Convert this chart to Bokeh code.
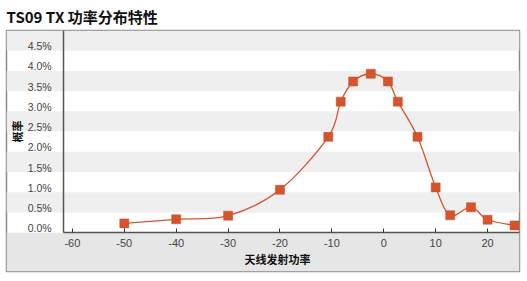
from bokeh.plotting import figure
from bokeh.models import Range1d, FixedTicker, BoxAnnotation, Label, ColumnDataSource
from bokeh.embed import file_html
from bokeh.resources import INLINE
import numpy as np

# ---- data ----
power_dbm = [-50, -40, -30, -20, -10.7, -8.3, -5.9, -2.5, 0.8, 2.7, 6.5, 10, 12.8, 16.8, 20, 25.2]
prob_pct = [0.23, 0.33, 0.42, 1.06, 2.37, 3.24, 3.74, 3.93, 3.74, 3.24, 2.37, 1.12, 0.43, 0.63, 0.32, 0.18]
x_ticks = [-60, -50, -40, -30, -20, -10, 0, 10, 20]
x_tick_labels = ["-60", "-50", "-40", "-30", "-20", "-10", "0", "10", "20"]
y_ticks = [0.0, 0.5, 1.0, 1.5, 2.0, 2.5, 3.0, 3.5, 4.0, 4.5]
y_tick_labels = ["0.0%", "0.5%", "1.0%", "1.5%", "2.0%", "2.5%", "3.0%", "3.5%", "4.0%", "4.5%"]
band_bottoms = [0.5, 1.5, 2.5, 3.5, 4.5]
band_height = 0.5

title_text = "TS09 TX 功率分布特性"
x_label = "天线发射功率"
y_label = "概率"

# axis extents (data units)
x_min, x_max = -61.7, 26.15      # plot area
y_min, y_max = 0.0, 5.0
x_pad_left = -72.7               # label column left of the plot area
y_pad_bottom = -0.96             # gray strip under the plot area

CJK = "Noto Sans CJK SC"
LAT = "Liberation Sans"
RED = "#d6542c"

p = figure(width=527, height=281, output_backend="svg", toolbar_location=None,
           x_range=Range1d(x_pad_left, x_max), y_range=Range1d(y_pad_bottom, y_max),
           min_border_left=6, min_border_right=8, min_border_top=29, min_border_bottom=10)
p.background_fill_color = "white"
p.border_fill_color = "white"
p.outline_line_color = "#8a8a8a"
p.outline_line_width = 1.5
p.grid.visible = False

# title
p.title.text = title_text
p.title.text_font = CJK
p.title.text_font_size = "15px"
p.title.text_font_style = "bold"
p.title.text_color = "#111111"
p.title.align = "left"
p.title.offset = 0
p.title.standoff = 7

# alternating bands across the whole width
for b in band_bottoms:
    p.add_layout(BoxAnnotation(bottom=b, top=b + band_height,
                               fill_color="#efefef", fill_alpha=1.0, line_color=None, level="underlay"))

# gray strip beneath the plot area
p.add_layout(BoxAnnotation(top=y_min, fill_color="#e6e6e6", fill_alpha=1.0,
                           line_color=None, level="underlay"))

# smooth curve via bezier segments (Catmull-Rom control points from the data)
xs = np.array(power_dbm, dtype=float)
ys = np.array(prob_pct, dtype=float)
xp = np.concatenate([[xs[0]], xs, [xs[-1]]])
yp = np.concatenate([[ys[0]], ys, [ys[-1]]])
n = len(xs)
x0 = xs[:-1]; y0 = ys[:-1]; x1 = xs[1:]; y1 = ys[1:]
cx0 = x0 + (xp[2:n + 1] - xp[0:n - 1]) / 6.0
cy0 = y0 + (yp[2:n + 1] - yp[0:n - 1]) / 6.0
cx1 = x1 - (xp[3:n + 2] - xp[1:n]) / 6.0
cy1 = y1 - (yp[3:n + 2] - yp[1:n]) / 6.0
p.bezier(x0=x0, y0=y0, x1=x1, y1=y1, cx0=cx0, cy0=cy0, cx1=cx1, cy1=cy1,
         line_color=RED, line_width=1.3)

src = ColumnDataSource(dict(x=power_dbm, y=prob_pct))
p.scatter("x", "y", source=src, marker="square", size=9, fill_color=RED,
          line_color="#c84a25", line_width=0.5)

# x axis, fixed at y = 0
xa = p.xaxis[0]
xa.fixed_location = y_min
xa.bounds = (x_min, x_max)
xa.ticker = FixedTicker(ticks=x_ticks)
xa.major_label_overrides = {t: lab for t, lab in zip(x_ticks, x_tick_labels)}
xa.minor_tick_line_color = None
xa.major_tick_in = 4
xa.major_tick_out = 0
xa.major_tick_line_color = "#333333"
xa.axis_line_color = "#555555"
xa.axis_line_width = 1.5
xa.major_label_text_font = LAT
xa.major_label_text_font_size = "11px"
xa.major_label_text_color = "#444444"
xa.major_label_standoff = 6

p.add_layout(Label(x=271, y=13, x_units="screen", y_units="screen", text=x_label,
                   text_font=CJK, text_font_size="11px", text_font_style="bold",
                   text_color="#111111", text_align="center", text_baseline="middle"))

# y axis, fixed at the left edge of the plot area (labels sit just above band edges)
ya = p.yaxis[0]
ya.fixed_location = x_min
ya.bounds = (y_min, y_max)
off = 0.11
shifted = [round(v + off, 4) for v in y_ticks]
ya.ticker = FixedTicker(ticks=shifted)
ya.major_label_overrides = {s: lab for s, lab in zip(shifted, y_tick_labels)}
ya.minor_tick_line_color = None
ya.major_tick_line_color = None
ya.axis_line_color = "#555555"
ya.axis_line_width = 1.5
ya.major_label_text_font = LAT
ya.major_label_text_font_size = "10.5px"
ya.major_label_text_color = "#444444"
ya.major_label_standoff = 6
ya.axis_label = y_label
ya.axis_label_text_font = CJK
ya.axis_label_text_font_size = "11px"
ya.axis_label_text_font_style = "bold"
ya.axis_label_text_color = "#111111"
ya.axis_label_standoff = 0

open("out.html", "w").write(file_html(p, INLINE))
